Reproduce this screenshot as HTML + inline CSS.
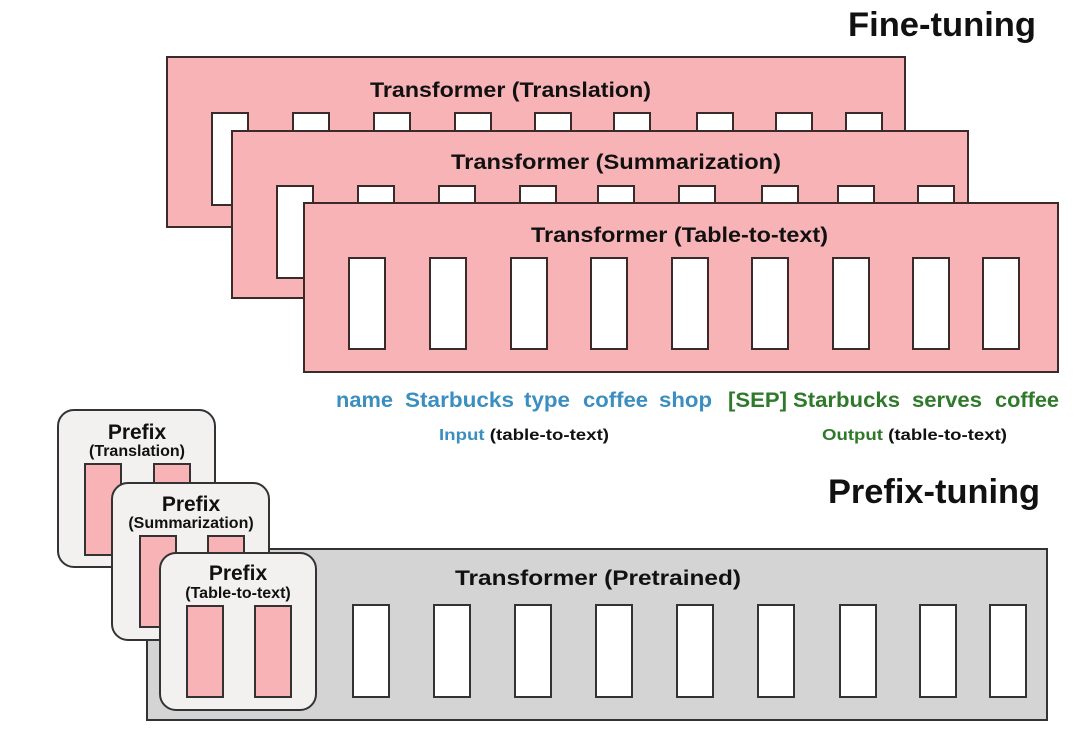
<!DOCTYPE html>
<html><head><meta charset="utf-8"><style>
html,body{margin:0;padding:0;background:#fff;}
svg{display:block;font-family:"Liberation Sans",sans-serif;font-weight:bold;}
</style></head><body>
<svg width="1080" height="731" viewBox="0 0 1080 731" xmlns="http://www.w3.org/2000/svg">
<g stroke="#3a2a2a" stroke-width="2">
<rect x="167" y="57" width="738" height="170" fill="#f7b3b6"/>
<g fill="#fff">
<rect x="212" y="113" width="36" height="92"/><rect x="293" y="113" width="36" height="92"/><rect x="374" y="113" width="36" height="92"/><rect x="455" y="113" width="36" height="92"/><rect x="535" y="113" width="36" height="92"/><rect x="614" y="113" width="36" height="92"/><rect x="697" y="113" width="36" height="92"/><rect x="776" y="113" width="36" height="92"/><rect x="846" y="113" width="36" height="92"/>
</g>
<rect x="232" y="131" width="736" height="167" fill="#f7b3b6"/>
<g fill="#fff">
<rect x="277" y="186" width="36" height="92"/><rect x="358" y="186" width="36" height="92"/><rect x="439" y="186" width="36" height="92"/><rect x="520" y="186" width="36" height="92"/><rect x="598" y="186" width="36" height="92"/><rect x="679" y="186" width="36" height="92"/><rect x="762" y="186" width="36" height="92"/><rect x="838" y="186" width="36" height="92"/><rect x="918" y="186" width="36" height="92"/>
</g>
<rect x="304" y="203" width="754" height="169" fill="#f7b3b6"/>
<g fill="#fff">
<rect x="349" y="258" width="36" height="91"/><rect x="430" y="258" width="36" height="91"/><rect x="511" y="258" width="36" height="91"/><rect x="591" y="258" width="36" height="91"/><rect x="672" y="258" width="36" height="91"/><rect x="752" y="258" width="36" height="91"/><rect x="833" y="258" width="36" height="91"/><rect x="913" y="258" width="36" height="91"/><rect x="983" y="258" width="36" height="91"/>
</g>
</g>
<g fill="#111" font-size="21">
<text x="370" y="97" textLength="281" lengthAdjust="spacingAndGlyphs">Transformer (Translation)</text>
<text x="451" y="169" textLength="330" lengthAdjust="spacingAndGlyphs">Transformer (Summarization)</text>
<text x="531" y="242" textLength="297" lengthAdjust="spacingAndGlyphs">Transformer (Table-to-text)</text>
</g>
<text x="848" y="36" font-size="34" textLength="188" lengthAdjust="spacingAndGlyphs" fill="#111">Fine-tuning</text>
<text x="828" y="503" font-size="34" textLength="212" lengthAdjust="spacingAndGlyphs" fill="#111">Prefix-tuning</text>
<g font-size="21">
<text x="336" y="407" fill="#3a8fc0" textLength="57" lengthAdjust="spacingAndGlyphs">name</text>
<text x="405" y="407" fill="#3a8fc0" textLength="109" lengthAdjust="spacingAndGlyphs">Starbucks</text>
<text x="524" y="407" fill="#3a8fc0" textLength="46" lengthAdjust="spacingAndGlyphs">type</text>
<text x="583" y="407" fill="#3a8fc0" textLength="65" lengthAdjust="spacingAndGlyphs">coffee</text>
<text x="659" y="407" fill="#3a8fc0" textLength="53" lengthAdjust="spacingAndGlyphs">shop</text>
<text x="728" y="407" fill="#2e7a2a" textLength="59" lengthAdjust="spacingAndGlyphs">[SEP]</text>
<text x="793" y="407" fill="#2e7a2a" textLength="107" lengthAdjust="spacingAndGlyphs">Starbucks</text>
<text x="912" y="407" fill="#2e7a2a" textLength="70" lengthAdjust="spacingAndGlyphs">serves</text>
<text x="995" y="407" fill="#2e7a2a" textLength="64" lengthAdjust="spacingAndGlyphs">coffee</text>
</g>
<g font-size="16">
<text x="439" y="440" textLength="170" lengthAdjust="spacingAndGlyphs"><tspan fill="#3a8fc0">Input</tspan><tspan fill="#111"> (table-to-text)</tspan></text>
<text x="822" y="440" textLength="185" lengthAdjust="spacingAndGlyphs"><tspan fill="#2e7a2a">Output</tspan><tspan fill="#111"> (table-to-text)</tspan></text>
</g>
<g stroke="#333" stroke-width="2">
<rect x="147" y="549" width="900" height="171" fill="#d4d4d4"/>
<g fill="#fff">
<rect x="353" y="605" width="36" height="92"/><rect x="434" y="605" width="36" height="92"/><rect x="515" y="605" width="36" height="92"/><rect x="596" y="605" width="36" height="92"/><rect x="677" y="605" width="36" height="92"/><rect x="758" y="605" width="36" height="92"/><rect x="840" y="605" width="36" height="92"/><rect x="920" y="605" width="36" height="92"/><rect x="990" y="605" width="36" height="92"/>
</g>
<rect x="58" y="410" width="157" height="157" rx="16" fill="#f3f1f0"/>
<rect x="85" y="464" width="36" height="91" fill="#f7b3b6"/><rect x="154" y="464" width="36" height="91" fill="#f7b3b6"/>
<rect x="112" y="483" width="157" height="157" rx="16" fill="#f3f1f0"/>
<rect x="140" y="536" width="36" height="91" fill="#f7b3b6"/><rect x="208" y="536" width="36" height="91" fill="#f7b3b6"/>
<rect x="160" y="553" width="156" height="157" rx="16" fill="#f3f1f0"/>
<rect x="187" y="606" width="36" height="91" fill="#f7b3b6"/><rect x="255" y="606" width="36" height="91" fill="#f7b3b6"/>
</g>
<g fill="#111" text-anchor="middle">
<text x="137" y="439" font-size="21">Prefix</text>
<text x="137" y="456" font-size="16">(Translation)</text>
<text x="191" y="511" font-size="21">Prefix</text>
<text x="191" y="528" font-size="16">(Summarization)</text>
<text x="238" y="580" font-size="21">Prefix</text>
<text x="238" y="598" font-size="16">(Table-to-text)</text>
</g>
<text x="455" y="585" font-size="21" fill="#111" textLength="286" lengthAdjust="spacingAndGlyphs">Transformer  (Pretrained)</text>
</svg>
</body></html>
